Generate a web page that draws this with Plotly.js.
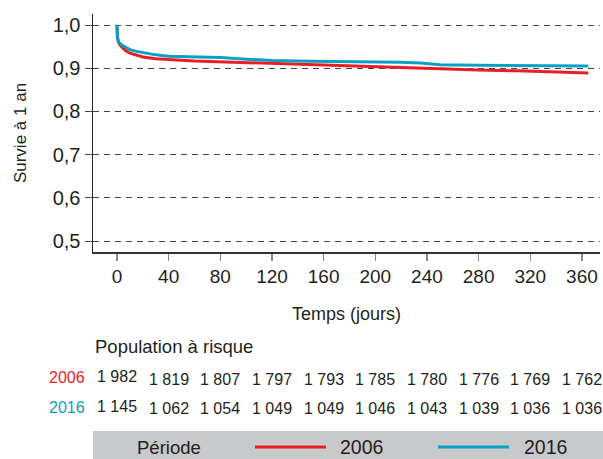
<!DOCTYPE html>
<html>
<head>
<meta charset="utf-8">
<script src="https://cdn.plot.ly/plotly-3.0.1.min.js"></script>
<style>html,body{margin:0;padding:0;background:#fff;}#chart{width:603px;height:459px;}</style>
</head>
<body>
<div id="chart"></div>
<script>
// ---- data ----
const days2006 = [0, 0.3, 1, 2, 4, 7, 10, 15, 20, 30, 40, 60, 90, 120, 150, 190, 220, 250, 280, 310, 340, 365];
const surv2006 = [1.0, 0.972, 0.962, 0.955, 0.948, 0.940, 0.935, 0.930, 0.926, 0.922, 0.920, 0.917, 0.914, 0.911, 0.908, 0.904, 0.901, 0.899, 0.896, 0.894, 0.891, 0.889];
const days2016 = [0, 0.3, 1, 2, 4, 7, 10, 15, 20, 30, 40, 60, 80, 100, 120, 150, 190, 220, 235, 250, 280, 310, 340, 365];
const surv2016 = [1.0, 0.972, 0.963, 0.958, 0.953, 0.947, 0.943, 0.939, 0.936, 0.931, 0.928, 0.926, 0.925, 0.921, 0.918, 0.916, 0.915, 0.914, 0.912, 0.908, 0.907, 0.906, 0.905, 0.905];
const xTicks = [0, 40, 80, 120, 160, 200, 240, 280, 320, 360];
const yTicks = [0.5, 0.6, 0.7, 0.8, 0.9, 1.0];
const yTickLabels = ["0,5", "0,6", "0,7", "0,8", "0,9", "1,0"];
const risk2006 = ["1 982", "1 819", "1 807", "1 797", "1 793", "1 785", "1 780", "1 776", "1 769", "1 762"];
const risk2016 = ["1 145", "1 062", "1 054", "1 049", "1 049", "1 046", "1 043", "1 039", "1 036", "1 036"];
const periods = ["2006", "2016"];

const RED = "#ec1c24", BLUE = "#0aa0c6", TXT = "#231f20";
const FONT = "'Liberation Sans', Arial, sans-serif";

// pixel helpers (plot area bottom at 252px, height 238px)
const plotBottom = 252, plotH = 238;
const py = p => (plotBottom - p) / plotH;

const traces = [
  {x: days2006, y: surv2006, mode: "lines", line: {color: RED, width: 3}, name: periods[0], showlegend: false, hoverinfo: "skip"},
  {x: days2016, y: surv2016, mode: "lines", line: {color: BLUE, width: 3}, name: periods[1], showlegend: false, hoverinfo: "skip"}
];

const annotations = [];
annotations.push({xref: "paper", yref: "paper", x: 0, y: py(346), xanchor: "left", yanchor: "middle", xshift: 0,
  text: "Population à risque", showarrow: false, font: {family: FONT, size: 18.5, color: TXT}});
annotations.push({xref: "paper", yref: "paper", x: 0, y: py(377), xanchor: "right", yanchor: "middle", xshift: -6,
  text: periods[0], showarrow: false, font: {family: FONT, size: 16, color: RED}});
annotations.push({xref: "paper", yref: "paper", x: 0, y: py(407), xanchor: "right", yanchor: "middle", xshift: -6,
  text: periods[1], showarrow: false, font: {family: FONT, size: 16, color: BLUE}});
xTicks.forEach((d, i) => {
  annotations.push({xref: "x", yref: "paper", x: d, y: py(i === 0 ? 376 : 379), xanchor: "center", yanchor: "middle",
    text: risk2006[i], showarrow: false, font: {family: FONT, size: 16, color: TXT}});
  annotations.push({xref: "x", yref: "paper", x: d, y: py(i === 0 ? 406 : 409), xanchor: "center", yanchor: "middle",
    text: risk2016[i], showarrow: false, font: {family: FONT, size: 16, color: TXT}});
});
// legend box
const lgY = py(447);
annotations.push({xref: "paper", yref: "paper", x: (169 - 93) / 507, y: lgY, xanchor: "center", yanchor: "middle",
  text: "Période", showarrow: false, font: {family: FONT, size: 18.5, color: TXT}});
annotations.push({xref: "paper", yref: "paper", x: (361 - 93) / 507, y: lgY, xanchor: "center", yanchor: "middle",
  text: periods[0], showarrow: false, font: {family: FONT, size: 19.5, color: TXT}});
annotations.push({xref: "paper", yref: "paper", x: (545 - 93) / 507, y: lgY, xanchor: "center", yanchor: "middle",
  text: periods[1], showarrow: false, font: {family: FONT, size: 19.5, color: TXT}});

const shapes = [
  {type: "rect", xref: "paper", yref: "paper", x0: 0, x1: 1.01, y0: py(460), y1: py(431), fillcolor: "#c8c9cb", line: {width: 0}, layer: "below"},
  {type: "line", xref: "paper", yref: "paper", x0: (255 - 93) / 507, x1: (326 - 93) / 507, y0: lgY, y1: lgY, line: {color: RED, width: 3}},
  {type: "line", xref: "paper", yref: "paper", x0: (438 - 93) / 507, x1: (509 - 93) / 507, y0: lgY, y1: lgY, line: {color: BLUE, width: 3}}
];

const layout = {
  width: 603, height: 459,
  margin: {l: 93, r: 3, t: 14, b: 207, pad: 0},
  paper_bgcolor: "#fff", plot_bgcolor: "#fff",
  font: {family: FONT, color: TXT},
  showlegend: false,
  xaxis: {
    range: [-18.6, 374], tickvals: xTicks, ticktext: xTicks.map(String),
    showgrid: false, zeroline: false, showline: true, linecolor: "#333", linewidth: 1.5,
    ticks: "outside", ticklen: 7, tickwidth: 1.5, tickcolor: "#888",
    tickfont: {family: FONT, size: 19, color: TXT},
    title: {text: "Temps (jours)", font: {family: FONT, size: 18, color: TXT}, standoff: 21}
  },
  yaxis: {
    range: [0.475, 1.0255], tickvals: yTicks, ticktext: yTickLabels,
    showgrid: true, gridcolor: "#444", gridwidth: 1, griddash: "6px,5px",
    zeroline: false, showline: true, linecolor: "#222", linewidth: 1.5,
    ticks: "outside", ticklen: 7, tickwidth: 1, tickcolor: "#444",
    tickfont: {family: FONT, size: 20, color: TXT},
    title: {text: "Survie à 1 an", font: {family: FONT, size: 17, color: TXT}, standoff: 21}
  },
  annotations: annotations,
  shapes: shapes
};

Plotly.newPlot("chart", traces, layout, {staticPlot: true, displayModeBar: false});
</script>
</body>
</html>
